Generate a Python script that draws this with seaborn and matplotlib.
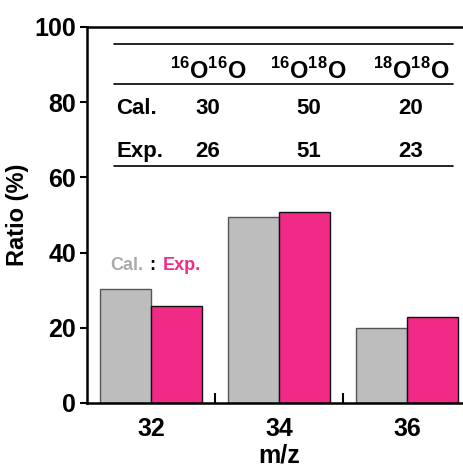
import pandas as pd
import seaborn as sns
import matplotlib.pyplot as plt

# dados
mz = ['32', '34', '36']
cal = [30.3, 49.5, 20.0]
exp = [25.9, 50.8, 23.0]
species = ['$^{16}$O$^{16}$O', '$^{16}$O$^{18}$O', '$^{18}$O$^{18}$O']
cal_tab = ['30', '50', '20']
exp_tab = ['26', '51', '23']

df = pd.DataFrame({'m/z': mz * 2,
                   'ratio': cal + exp,
                   'tipo': ['Cal.'] * 3 + ['Exp.'] * 3})

sns.set_style('ticks')
plt.rcParams['font.family'] = ['Liberation Sans', 'DejaVu Sans']
plt.rcParams['font.weight'] = 'bold'
plt.rcParams['text.color'] = 'black'
plt.rcParams['axes.labelcolor'] = 'black'
plt.rcParams['xtick.color'] = 'black'
plt.rcParams['ytick.color'] = 'black'
plt.rcParams['axes.edgecolor'] = 'black'
plt.rcParams['mathtext.fontset'] = 'custom'
plt.rcParams['mathtext.rm'] = 'Liberation Sans:bold'
plt.rcParams['mathtext.bf'] = 'Liberation Sans:bold'

fig = plt.figure(figsize=(4.64, 4.68), dpi=100)
ax = fig.add_axes([87 / 464, 65 / 468, 384 / 464, 376 / 468])

sns.barplot(data=df, x='m/z', y='ratio', hue='tipo', ax=ax,
            palette={'Cal.': '#bdbdbd', 'Exp.': '#f12b85'}, saturation=1,
            width=0.8, edgecolor='#111111', linewidth=1.0, legend=False)
for bar in ax.patches[:3]:
    bar.set_edgecolor('#555555')

ax.set_xlim(-0.5, 2.5)
ax.set_ylim(0, 100)
ax.set_yticks([0, 20, 40, 60, 80, 100])
ax.tick_params(axis='y', direction='out', length=5, width=1.5, labelsize=18, pad=3)
ax.tick_params(axis='x', which='major', length=0, labelsize=18, pad=10)
ax.set_xticks([0.5, 1.5], minor=True)
ax.tick_params(axis='x', which='minor', direction='in', length=7, width=1.5)
for lab in ax.get_xticklabels() + ax.get_yticklabels():
    lab.set_fontweight('bold')

for s in ['left', 'bottom', 'top']:
    ax.spines[s].set_linewidth(1.8)
ax.spines['right'].set_visible(False)

ax.set_xlabel('m/z', fontsize=18, fontweight='bold', labelpad=2)
ax.set_ylabel('Ratio (%)', fontsize=17, fontweight='bold', labelpad=4)

# tabela
for yl in [95.5, 84.8, 63.0]:
    ax.plot([-0.29, 2.36], [yl, yl], color='black', lw=1.2)
cols = [0.445, 1.23, 2.03]
for i in range(3):
    ax.text(cols[i], 88.3, species[i], ha='center', va='center', fontsize=17, fontweight='bold')
    ax.text(cols[i], 78.2, cal_tab[i], ha='center', va='center', fontsize=16, fontweight='bold')
    ax.text(cols[i], 66.8, exp_tab[i], ha='center', va='center', fontsize=16, fontweight='bold')
ax.text(-0.27, 78.2, 'Cal.', ha='left', va='center', fontsize=16, fontweight='bold')
ax.text(-0.27, 66.8, 'Exp.', ha='left', va='center', fontsize=16, fontweight='bold')

# legenda em texto
ax.text(-0.32, 36.7, 'Cal.', ha='left', va='center', fontsize=13, fontweight='bold', color='#aaaaaa')
ax.text(0.01, 36.7, ':', ha='center', va='center', fontsize=13, fontweight='bold', color='black')
ax.text(0.09, 36.7, 'Exp.', ha='left', va='center', fontsize=13, fontweight='bold', color='#f12b85')

fig.savefig('out.png', dpi=100)
